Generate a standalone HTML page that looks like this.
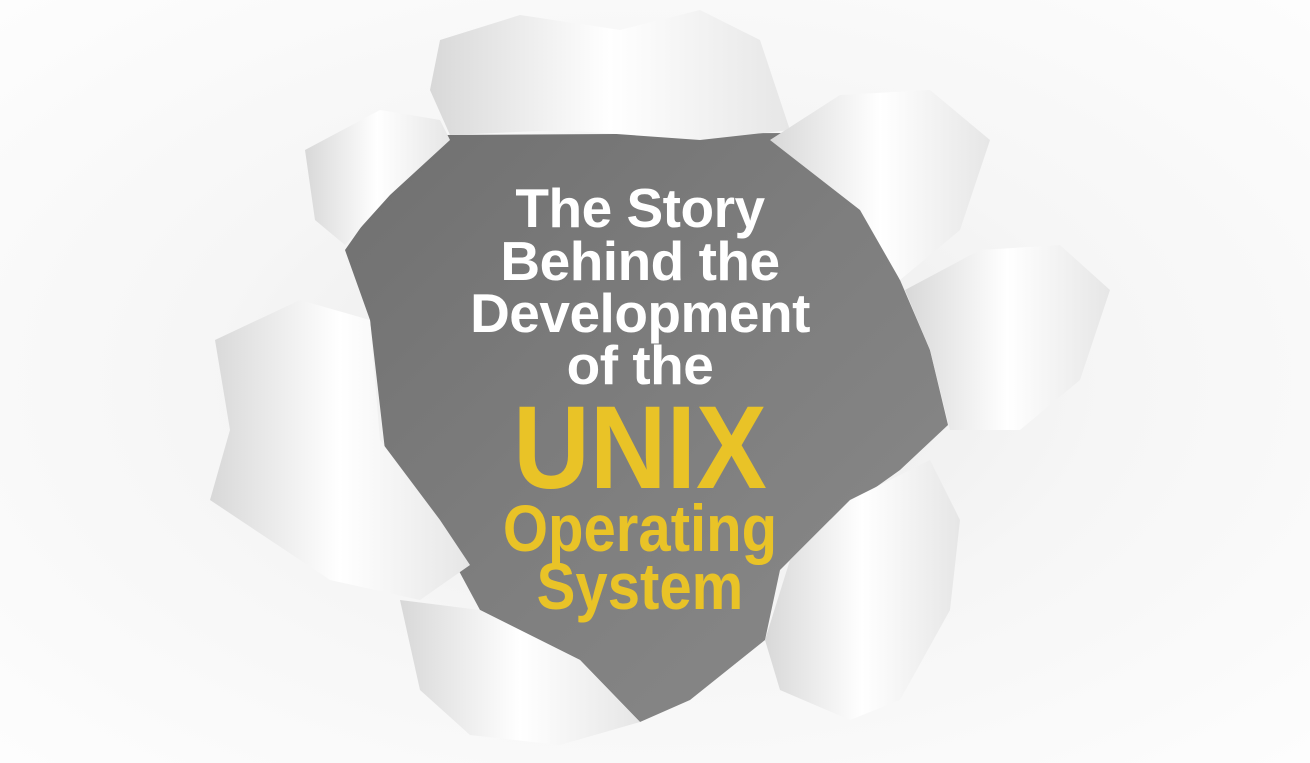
<!DOCTYPE html>
<html><head><style>
html,body{margin:0;padding:0;}
body{width:1310px;height:763px;overflow:hidden;background:#fafafa;position:relative;font-family:"Liberation Sans",sans-serif;}
svg{position:absolute;left:0;top:0;}
.t{position:absolute;left:0;width:1280px;text-align:center;font-weight:bold;white-space:nowrap;}
.w{color:#fff;font-size:55px;letter-spacing:-0.5px;}
.y{color:#e9c327;}
</style></head><body>
<svg width="1310" height="763" viewBox="0 0 1310 763">
<defs>
<radialGradient id="bg" cx="0.5" cy="0.5" r="0.7">
<stop offset="0" stop-color="#e9e9e9"/><stop offset="0.5" stop-color="#f6f6f6"/><stop offset="1" stop-color="#fdfdfd"/>
</radialGradient>
<linearGradient id="hole" x1="0" y1="0" x2="1" y2="1">
<stop offset="0" stop-color="#707070"/><stop offset="0.5" stop-color="#7e7e7e"/><stop offset="1" stop-color="#8a8a8a"/>
</linearGradient>
<linearGradient id="curl" x1="0" y1="0" x2="1" y2="0">
<stop offset="0" stop-color="#d8d8d8"/><stop offset="0.5" stop-color="#ffffff"/><stop offset="1" stop-color="#e6e6e6"/>
</linearGradient>
</defs>
<rect width="1310" height="763" fill="url(#bg)"/>
<polygon fill="url(#hole)" points="445,135 790,133 860,200 900,280 930,350 948,425 900,470 830,520 780,570 765,640 690,700 640,722 580,660 480,610 445,545 385,450 370,320 345,250 380,200"/>
<polygon fill="url(#curl)" points="440,40 520,15 620,30 700,10 760,40 790,130 700,140 560,130 450,135 430,90"/>
<polygon fill="url(#curl)" points="305,150 380,110 440,120 450,140 390,195 345,245 315,220"/>
<polygon fill="url(#curl)" points="215,340 300,300 370,320 380,440 440,520 470,565 420,600 330,580 270,540 210,500 230,430"/>
<polygon fill="url(#curl)" points="770,140 840,95 930,90 990,140 960,230 900,280 860,210"/>
<polygon fill="url(#curl)" points="905,290 980,250 1060,245 1110,290 1080,380 1020,430 950,430 930,350"/>
<polygon fill="url(#curl)" points="790,560 850,500 930,460 960,520 950,610 900,700 850,720 780,690 765,640"/>
<polygon fill="url(#curl)" points="400,600 480,610 580,660 640,722 560,745 470,735 420,690"/>
</svg>
<div class="t w" style="top:176px;">The Story</div>
<div class="t w" style="top:229px;">Behind the</div>
<div class="t w" style="top:281px;">Development</div>
<div class="t w" style="top:333px;">of the</div>
<div class="t y" style="top:380px;font-size:118px;transform:scaleX(0.9);transform-origin:640px 0;">UNIX</div>
<div class="t y" style="top:490px;font-size:66px;transform:scaleX(0.88);transform-origin:640px 0;">Operating</div>
<div class="t y" style="top:548px;font-size:66px;transform:scaleX(0.88);transform-origin:640px 0;">System</div>
</body></html>
